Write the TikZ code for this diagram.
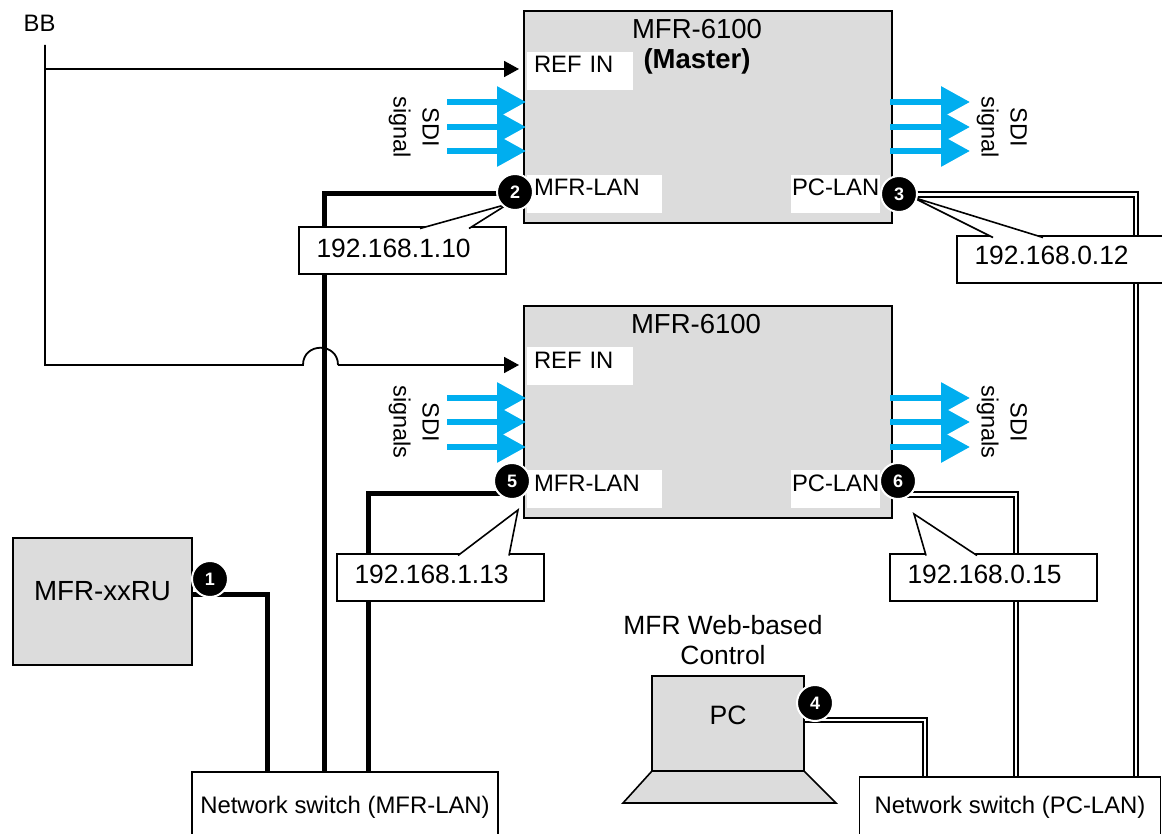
\documentclass[tikz,border=0pt]{standalone}
\usepackage{fontspec}
\setmainfont{Liberation Sans}
\usepackage{tikz}
\usetikzlibrary{positioning,arrows.meta,backgrounds}
\usepackage{xcolor}
\definecolor{unitgrey}{HTML}{DCDCDC}
\definecolor{sdiblue}{HTML}{00AEEF}

\begin{document}
\begin{tikzpicture}[
  x=1pt, y=-1pt,
  every node/.style={outer sep=0pt},
  unit/.style={draw, fill=unitgrey, line width=1.6pt, inner sep=0pt},
  port/.style={fill=white, inner ysep=0pt, inner xsep=7pt, align=left,
               text height=21pt, text depth=17pt,
               font=\fontsize{23.8}{28}\selectfont},
  title/.style={inner sep=0pt, align=center, font=\fontsize{27.5}{30}\selectfont},
  ipbox/.style={draw, fill=white, line width=1.6pt, inner ysep=0pt, inner xsep=17.5pt,
                text width=172pt, align=left, text height=29pt, text depth=18pt,
                font=\fontsize{26.4}{30}\selectfont},
  switchbox/.style={draw, fill=white, line width=1.6pt, inner sep=0pt,
                    font=\fontsize{23.9}{28}\selectfont},
  badge/.style={circle, fill=black, draw=white, line width=2pt, text=white, inner sep=0pt,
                minimum size=36pt, font=\fontsize{18}{18}\selectfont\bfseries},
  sdilabel/.style={rotate=-90, inner sep=0pt, align=center,
                   font=\fontsize{23.5}{29}\selectfont},
  sdi/.style={draw=sdiblue, line width=6pt, -{Triangle[length=29pt,width=30pt]}},
  ref/.style={line width=1.8pt, -{Triangle[length=15pt,width=16pt]}},
  mfrline/.style={line width=5pt},
  pcline/.style={line width=2.2pt, double=white, double distance=2.2pt},
  tail/.style={draw, fill=white, line width=1.6pt},
  node distance=8pt and 10pt
]
  \useasboundingbox (0,0) rectangle (1162,834);

  % units
  \node[unit, minimum width=368pt, minimum height=212pt] (master) at (708,117) {};
  \node[unit, minimum width=368pt, minimum height=212pt, below=83pt of master] (slave) {};
  \node[unit, minimum width=179pt, inner xsep=0pt, text height=62pt, text depth=65pt,
        font=\fontsize{27.7}{30}\selectfont] (ru) at (102.5,601.5) {MFR-xxRU};
  \node[unit, minimum width=152pt, text height=48pt, text depth=47pt,
        font=\fontsize{26.6}{30}\selectfont, inner xsep=0pt] (pc) at (728,723.5) {PC\hspace{1pt}};
  \draw[unit] (pc.south west) -- (pc.south east) -- ++(32,32) -- ++(-213,0) -- cycle;
  \node[title, font=\fontsize{26.4}{30}\selectfont, above=11pt of pc.north, xshift=-5pt] (pctitle) {MFR Web-based\\Control};

  \node[title, below=8pt of master.north, xshift=-11pt] (mastertitle) {MFR-6100};
  \node[title, font=\fontsize{27.5}{30}\selectfont\bfseries, below=10pt of mastertitle] (masterrole) {(Master)};
  \node[title, below=8pt of slave.north, xshift=-12pt] (slavetitle) {MFR-6100};

  % ports
  \node[port, text width=92pt, below right=41pt and 3pt of master.north west] (masterref) {REF IN};
  \node[port, text width=121pt, below right=164pt and 3pt of master.north west] (mastermfr) {MFR-LAN};
  \node[port, inner xsep=1pt, text width=87pt, below left=164pt and 12pt of master.north east] (masterpc) {\mbox{PC-LAN}};
  \node[port, text width=92pt, below right=41pt and 3pt of slave.north west] (slaveref) {REF IN};
  \node[port, text width=121pt, below right=164pt and 3pt of slave.north west] (slavemfr) {MFR-LAN};
  \node[port, inner xsep=1pt, text width=87pt, below left=164pt and 12pt of slave.north east] (slavepc) {\mbox{PC-LAN}};

  % switches
  \node[switchbox, minimum width=306pt, minimum height=70pt] (switchmfr) at (345,807) {Network switch (MFR-LAN)};
  \node[switchbox, minimum width=301pt, minimum height=60pt] (switchpc) at (1010,807) {Network switch (PC-LAN)};

  % addresses
  \node[ipbox, text height=31pt, text depth=16pt, below left=4pt and 18pt of master.south west] (ipten) {192.168.1.10};
  \node[ipbox, below right=13pt and 65pt of master.south east] (iptwelve) {192.168.0.12};
  \node[ipbox, below left=36pt and -20pt of slave.south west] (ipthirteen) {192.168.1.13};
  \node[ipbox, below right=36pt and -2pt of slave.south east] (ipfifteen) {192.168.0.15};

  \coordinate (tipten) at (508,204);
  \coordinate (tiptwelve) at (912,197);
  \coordinate (tipthirteen) at (518,510);
  \coordinate (tipfifteen) at (914,514);
  \draw[tail] ([shift={(121pt,-1.5pt)}]ipten.north west) -- (tipten) -- ([shift={(170pt,-1.5pt)}]ipten.north west);
  \draw[tail] ([shift={(36pt,-1.5pt)}]iptwelve.north west) -- (tiptwelve) -- ([shift={(86pt,-1.5pt)}]iptwelve.north west);
  \draw[tail] ([shift={(121pt,-1.5pt)}]ipthirteen.north west) -- (tipthirteen) -- ([shift={(172pt,-1.5pt)}]ipthirteen.north west);
  \draw[tail] ([shift={(36pt,-1.5pt)}]ipfifteen.north west) -- (tipfifteen) -- ([shift={(87pt,-1.5pt)}]ipfifteen.north west);

  % numbered marks
  \node[badge] (markone) at (210,579) {1};
  \node[badge] (marktwo) at (515,192) {2};
  \node[badge] (markthree) at (899,194) {3};
  \node[badge] (markfour) at (815,703) {4};
  \node[badge] (markfive) at (512,481) {5};
  \node[badge] (marksix) at (898,481) {6};

  % BB
  \node[inner sep=0pt, font=\fontsize{23.8}{28}\selectfont] (bb) at (39.5,23) {BB};
  \coordinate (bbtop) at (45,45);
  \coordinate (bbmaster) at (45,69);
  \coordinate (bbslave) at (45,365);
  \coordinate (masterin) at (519,69);
  \coordinate (slavein) at (519,365);
  \coordinate (bumpleft) at (303,365);
  \coordinate (bumpright) at (338,365);
  \draw[line width=1.8pt] (bbtop) -- (bbslave) -- (bumpleft) .. controls (303,342) and (338,342) .. (bumpright);
  \draw[ref] (bbmaster) -- (masterin);
  \draw[ref] (bumpright) -- (slavein);

  % SDI signals
  \node[sdilabel] (sdimasterin) at (414,127) {SDI\\signal};
  \node[sdilabel] (sdimasterout) at (1002,127) {SDI\\signal};
  \node[sdilabel] (sdislavein) at (414,422) {SDI\\signals};
  \node[sdilabel] (sdislaveout) at (1002,422) {SDI\\signals};

  \coordinate (mia) at (447,102);
  \coordinate (mib) at (447,127);
  \coordinate (mic) at (447,151);
  \coordinate (moa) at (970,102);
  \coordinate (mob) at (970,127);
  \coordinate (moc) at (970,151);
  \coordinate (sia) at (447,398);
  \coordinate (sib) at (447,422);
  \coordinate (sic) at (447,447);
  \coordinate (soa) at (970,398);
  \coordinate (sob) at (970,422);
  \coordinate (soc) at (970,447);
  \draw[sdi] (mia) -- ([xshift=2pt]mia -| master.west);
  \draw[sdi] (mib) -- ([xshift=2pt]mib -| master.west);
  \draw[sdi] (mic) -- ([xshift=2pt]mic -| master.west);
  \draw[sdi] ([xshift=-2pt]moa -| master.east) -- (moa);
  \draw[sdi] ([xshift=-2pt]mob -| master.east) -- (mob);
  \draw[sdi] ([xshift=-2pt]moc -| master.east) -- (moc);
  \draw[sdi] (sia) -- ([xshift=2pt]sia -| slave.west);
  \draw[sdi] (sib) -- ([xshift=2pt]sib -| slave.west);
  \draw[sdi] (sic) -- ([xshift=2pt]sic -| slave.west);
  \draw[sdi] ([xshift=-2pt]soa -| slave.east) -- (soa);
  \draw[sdi] ([xshift=-2pt]sob -| slave.east) -- (sob);
  \draw[sdi] ([xshift=-2pt]soc -| slave.east) -- (soc);

  % network cables
  \coordinate (cornerone) at (267,594);
  \coordinate (cornertwo) at (324,194);
  \coordinate (cornerthree) at (1136,194.5);
  \coordinate (cornerfour) at (925,720);
  \coordinate (cornerfive) at (368,493);
  \coordinate (cornersix) at (1016,494.5);
  \begin{scope}[on background layer]
    \draw[mfrline] (cornerone -| ru.east) -- (cornerone) -- (cornerone |- switchmfr.north);
    \draw[mfrline] (cornertwo -| marktwo) -- (cornertwo) -- (cornertwo |- switchmfr.north);
    \draw[mfrline] (cornerfive -| markfive) -- (cornerfive) -- (cornerfive |- switchmfr.north);
    \draw[pcline] (cornerthree -| markthree) -- (cornerthree) -- (cornerthree |- switchpc.north);
    \draw[pcline] (cornersix -| marksix) -- (cornersix) -- (cornersix |- switchpc.north);
    \draw[pcline] (cornerfour -| pc.east) -- (cornerfour) -- (cornerfour |- switchpc.north);
  \end{scope}
\end{tikzpicture}
\end{document}
